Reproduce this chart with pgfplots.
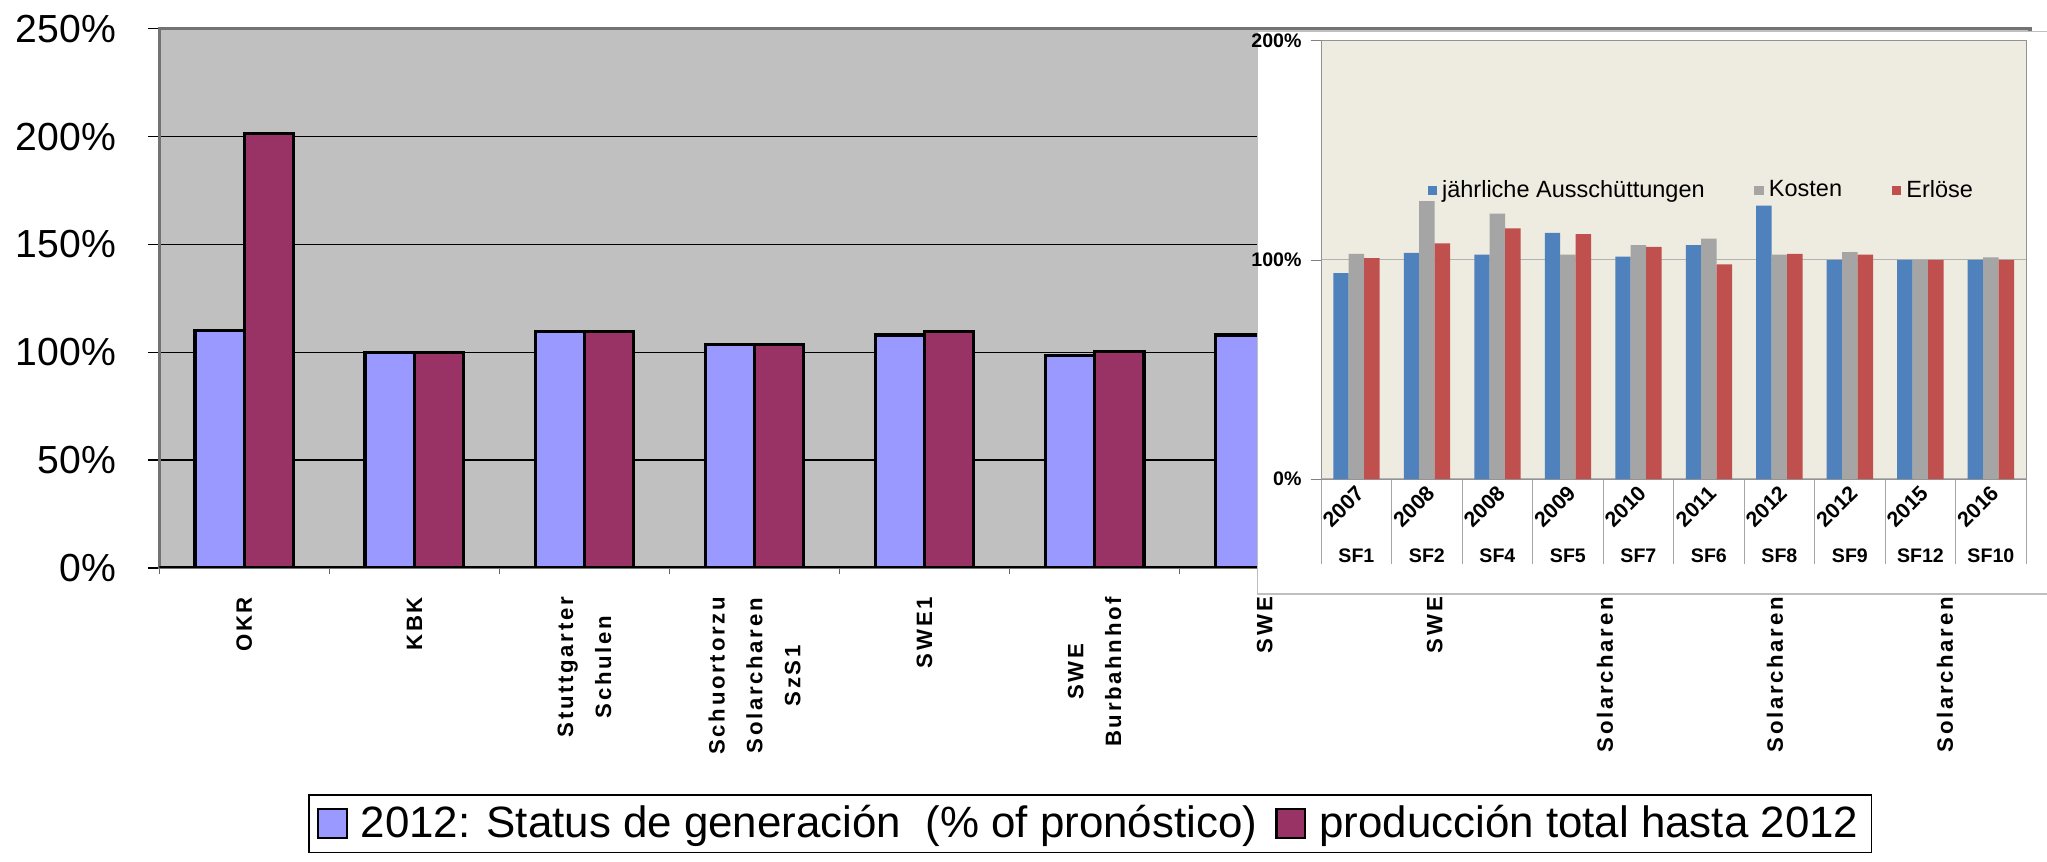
\documentclass[border=0pt]{standalone}
\usepackage{fontspec}
\setmainfont{Liberation Sans}
\newfontfamily\pixfont[LetterSpace=12]{Liberation Sans}
\usepackage{pgfplots}
\pgfplotsset{compat=1.18}

\definecolor{mainblue}{HTML}{9999FF}
\definecolor{mainred}{HTML}{993366}
\definecolor{plotgray}{HTML}{C0C0C0}
\definecolor{insetbg}{HTML}{EEEBE0}
\definecolor{sblue}{HTML}{4F81BD}
\definecolor{sgray}{HTML}{A5A5A5}
\definecolor{sred}{HTML}{C0504D}

\begin{document}
\begin{tikzpicture}
\useasboundingbox (0pt,0pt) rectangle (784pt,330pt);

% main chart
\begin{axis}[
  at={(61pt,112.5pt)}, anchor=south west,
  scale only axis, width=716.5pt, height=206.5pt,
  xmin=-0.5, xmax=10.5, ymin=0, ymax=250,
  axis background/.style={fill=plotgray},
  axis line style={draw=gray!90!black, line width=1.2pt},
  ybar=0pt, bar width=0.29,
  xtick pos=bottom, ytick pos=left,
  ytick={0,50,...,250},
  yticklabels={0\%,50\%,100\%,150\%,200\%,250\%},
  yticklabel style={font=\fontsize{15}{18}\selectfont, xshift=-8.5pt},
  ymajorgrids, major grid style={black, line width=0.5pt},
  tick align=outside,
  major tick length=4.5pt,
  ytick style={black, line width=0.5pt},
  xtick={0,...,10},
  xticklabels={OKR, KBK, {Stuttgarter\\Schulen}, {Schuortorzu\\Solarcharen\\SzS1}, SWE1,
    {SWE\\Burbahnhof}, SWE, SWE, Solarcharen, Solarcharen, Solarcharen},
  major x tick style={draw=none},
  minor xtick={-0.5,0.5,...,10.5},
  minor tick length=2.5pt,
  minor x tick style={gray!80!black},
  xticklabel style={yshift=-6.5pt, rotate=90, anchor=east, inner sep=0pt, align=center,
    font=\pixfont\bfseries\fontsize{8.5}{14.5}\selectfont},
  legend style={at={(0.4976,-0.4746)}, anchor=center, draw=black, line width=0.6pt,
    legend columns=-1, font=\fontsize{16.8}{20}\selectfont,
    /tikz/every odd column/.append style={column sep=3pt},
    /tikz/every even column/.append style={column sep=5pt}},
  legend image code/.code={\draw[#1, draw=black, line width=0.8pt] (0pt,-5.5pt) rectangle (11pt,5.5pt);},
]
\addplot[fill=mainblue, draw=black, line width=1.2pt] coordinates {
  (0,110) (1,100) (2,109.5) (3,103.5) (4,108) (5,98.5) (6,108)};
\addplot[fill=mainred, draw=black, line width=1.2pt] coordinates {
  (0,201.5) (1,100) (2,109.5) (3,103.5) (4,109.5) (5,100.5)};
\draw[black, line width=1.2pt] (axis cs:-0.5,0) -- (axis cs:10.5,0);
\legend{2012: Status de generación\ \ (\% of pronóstico), producción total hasta 2012}
\end{axis}

% inset chart
\draw[gray!50, fill=white] (481.5pt,102.5pt) rectangle (784pt,318pt);
\begin{axis}[
  at={(506pt,146.5pt)}, anchor=south west,
  scale only axis, width=270pt, height=168pt,
  xmin=-0.5, xmax=9.5, ymin=0, ymax=200,
  axis background/.style={fill=insetbg},
  axis line style={draw=gray!85},
  ybar=0pt, bar width=0.219,
  xtick pos=bottom, ytick pos=left,
  ytick={0,100,200},
  yticklabels={0\%,100\%,200\%},
  ymajorgrids, major grid style={gray!60, line width=0.5pt},
  tick align=outside, major tick length=4pt,
  ytick style={gray},
  xtick={0,...,9},
  xticklabels={SF1,SF2,SF4,SF5,SF7,SF6,SF8,SF9,SF12,SF10},
  major x tick style={draw=none},
  minor xtick={-0.5,0.5,...,9.5},
  minor tick length=32.5pt,
  minor x tick style={gray!70},
  tick label style={font=\bfseries\fontsize{7.5}{9}\selectfont},
  xticklabel style={yshift=-22.5pt, anchor=north, inner sep=0pt},
  extra x ticks={0,...,9},
  extra x tick labels={2007,2008,2008,2009,2010,2011,2012,2012,2015,2016},
  extra x tick style={major tick length=0pt,
    xticklabel style={xshift=-5pt, yshift=12pt, rotate=45, anchor=center,
      font=\bfseries\fontsize{8.2}{9}\selectfont}},
  legend style={at={(0.139,0.658)}, anchor=west, draw=none, fill=none,
    legend columns=-1, font=\fontsize{9}{11}\selectfont,
    /tikz/every even column/.append style={column sep=17pt}},
  legend image code/.code={\fill[#1] (0pt,-1.8pt) rectangle (3.6pt,1.8pt);},
]
\addplot[fill=sblue, draw=none] coordinates {
  (0,93.9) (1,103.2) (2,102.4) (3,112.3) (4,101.5) (5,106.7) (6,124.7) (7,100) (8,100) (9,100)};
\addplot[fill=sgray, draw=none] coordinates {
  (0,102.7) (1,126.8) (2,121.0) (3,102.3) (4,106.7) (5,109.7) (6,102.3) (7,103.5) (8,100) (9,101.1)};
\addplot[fill=sred, draw=none] coordinates {
  (0,100.8) (1,107.5) (2,114.3) (3,111.7) (4,105.9) (5,97.9) (6,102.7) (7,102.4) (8,100) (9,100)};
\legend{jährliche Ausschüttungen, Kosten, Erlöse}
\end{axis}
\end{tikzpicture}
\end{document}
